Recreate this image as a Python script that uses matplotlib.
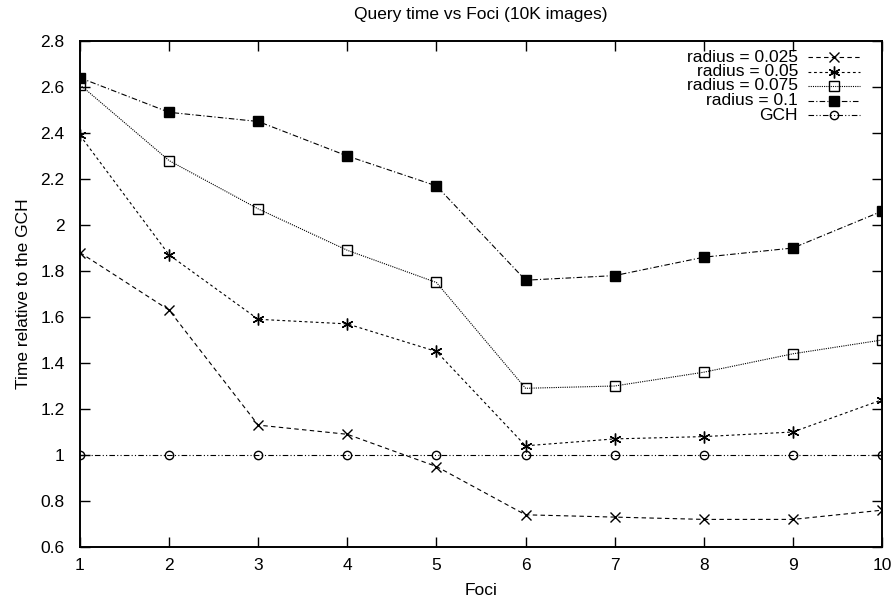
import matplotlib
matplotlib.use("Agg")
import matplotlib.pyplot as plt
from matplotlib.lines import Line2D
from matplotlib.ticker import FuncFormatter

plt.rcParams['font.family'] = ['Liberation Sans', 'DejaVu Sans']

# query time relative to GCH, per number of foci
foci = [1, 2, 3, 4, 5, 6, 7, 8, 9, 10]
r_025 = [1.88, 1.63, 1.13, 1.09, 0.95, 0.74, 0.73, 0.72, 0.72, 0.76]
r_05 = [2.39, 1.87, 1.59, 1.57, 1.45, 1.04, 1.07, 1.08, 1.10, 1.24]
r_075 = [2.61, 2.28, 2.07, 1.89, 1.75, 1.29, 1.30, 1.36, 1.44, 1.50]
r_1 = [2.64, 2.49, 2.45, 2.30, 2.17, 1.76, 1.78, 1.86, 1.90, 2.06]
gch = [1, 1, 1, 1, 1, 1, 1, 1, 1, 1]

labels = ["radius = 0.025", "radius = 0.05", "radius = 0.075", "radius = 0.1", "GCH"]
yticks = [0.6, 0.8, 1, 1.2, 1.4, 1.6, 1.8, 2, 2.2, 2.4, 2.6, 2.8]

FS = 12.5
asterisk = (6, 2, 0)
styles = [
    dict(ls=(0, (4, 3)), marker='x', ms=6.5, mfc='none'),
    dict(ls=(0, (2.5, 2.5)), marker=asterisk, ms=8.5, mfc='none'),
    dict(ls=(0, (1, 1)), marker='s', ms=6.5, mfc='none'),
    dict(ls=(0, (5, 2, 1, 2)), marker='s', ms=6.5, mfc='black'),
    dict(ls=(0, (5, 2, 1, 2, 1, 2)), marker='o', ms=6, mfc='none'),
]

fig = plt.figure(figsize=(8.94, 6.05), dpi=100)
ax = fig.add_axes([80 / 894, 1 - 547 / 605, 802 / 894, 506 / 605])

series = [r_025, r_05, r_075, r_1, gch]
for ys, st in zip(series, styles):
    ax.plot(foci, ys, color='black', lw=0.8, mew=1.0, mec='black', **st)

ax.set_xlim(1, 10)
ax.set_ylim(0.6, 2.8)
ax.set_xticks(foci)
ax.set_yticks(yticks)
ax.yaxis.set_major_formatter(FuncFormatter(lambda v, p: '%g' % round(v, 2)))
ax.tick_params(direction='in', length=7, width=1.0, top=True, right=True,
               labelsize=FS)
ax.tick_params(axis='y', pad=11)
ax.tick_params(axis='x', pad=8)
for sp in ax.spines.values():
    sp.set_linewidth(1.4)

ax.set_title("Query time vs Foci (10K images)", fontsize=FS, pad=16)
ax.set_xlabel("Foci", fontsize=FS, labelpad=7)
ax.set_ylabel("Time relative to the GCH", fontsize=FS, labelpad=7)

# gnuplot-style key: label right-aligned, sample to its right
tx = (798 - 80) / 802
x0, x1 = (808 - 80) / 802, (860 - 80) / 802
xm = (834 - 80) / 802
for i, (lab, st) in enumerate(zip(labels, styles)):
    yy = 1 - (57 + 14.5 * i - 41) / 506
    ax.text(tx, yy, lab, transform=ax.transAxes, ha='right', va='center',
            fontsize=FS)
    ax.add_line(Line2D([x0, x1], [yy, yy], transform=ax.transAxes,
                       color='black', lw=0.8, ls=st['ls']))
    ax.add_line(Line2D([xm], [yy], transform=ax.transAxes, color='black',
                       marker=st['marker'], ms=st['ms'], mfc=st['mfc'],
                       mec='black', mew=1.0, ls='none'))

fig.savefig("out.png", dpi=100)
